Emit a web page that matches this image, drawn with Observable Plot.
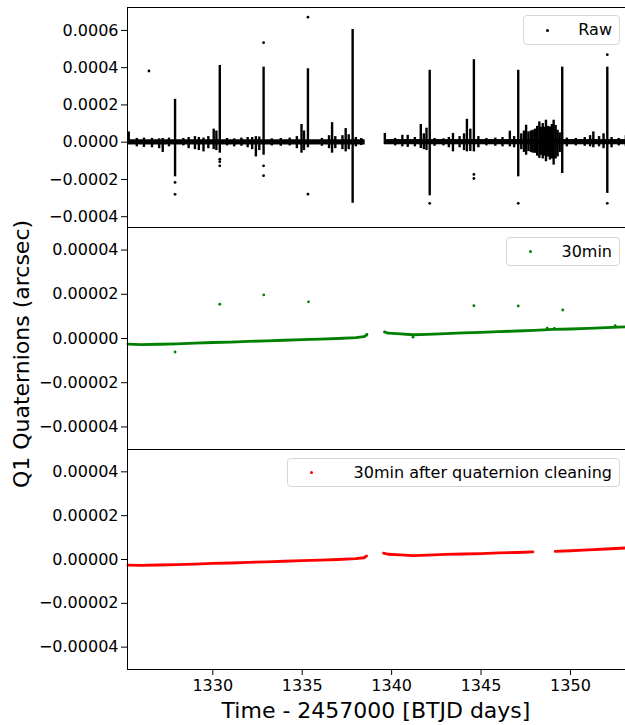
<!DOCTYPE html>
<html><head><meta charset="utf-8">
<script src="https://cdn.jsdelivr.net/npm/d3@7"></script>
<script src="https://cdn.jsdelivr.net/npm/@observablehq/plot@0.6"></script>
<style>
html,body{margin:0;padding:0;background:#fff;overflow:hidden;}
#wrap{position:relative;width:625px;height:725px;font-family:"DejaVu Sans",sans-serif;overflow:hidden;background:#fff;}
#wrap svg{position:absolute;left:0;overflow:visible !important;background:transparent;}
.legend{position:absolute;border:1px solid #d6d6d6;border-radius:4px;background:rgba(255,255,255,0.85);font-size:16px;color:#000;box-sizing:border-box;z-index:5;}
.legend .dot{position:absolute;width:3px;height:3px;border-radius:50%;}
.legend .txt{position:absolute;right:7px;top:0;white-space:nowrap;}
.lab{position:absolute;font-size:22px;color:#000;white-space:nowrap;}
</style>
</head><body><div id="wrap"></div>
<script>
// ---------- data ----------
const xTicks = [1330, 1335, 1340, 1345, 1350];
const rawTicks = [-0.0004, -0.0002, 0, 0.0002, 0.0004, 0.0006];
const binTicks = [-0.00004, -0.00002, 0, 0.00002, 0.00004];

// raw baseline band segments: [start, end, lo, hi]
const rawBand = [
  [1325.23, 1338.52, -0.000015, 0.000013],
  [1339.60, 1353.20, -0.000014, 0.000014]
];
// raw vertical excursions: [time, low, high]
const rawSpikes = [
  [1327.89, -0.000186, 0.000230],
  [1330.39, -0.000059, 0.000412],
  [1332.84, -0.000070, 0.000403],
  [1335.32, -0.000030, 0.000394],
  [1337.82, -0.000328, 0.000605],
  [1342.13, -0.000288, 0.000386],
  [1344.60, -0.000052, 0.000443],
  [1347.08, -0.000186, 0.000386],
  [1349.54, -0.000168, 0.000403],
  [1352.06, -0.000275, 0.000403],
  [1325.30, -0.000012, 0.000055],
  [1325.75, -0.000025, 0.000020],
  [1326.15, -0.000028, 0.000022],
  [1326.60, -0.000030, 0.000020],
  [1327.00, -0.000035, 0.000018],
  [1327.20, -0.000055, 0.000020],
  [1327.55, -0.000025, 0.000022],
  [1328.35, -0.000020, 0.000020],
  [1328.65, -0.000035, 0.000025],
  [1329.00, -0.000040, 0.000030],
  [1329.22, -0.000045, 0.000025],
  [1329.48, -0.000052, 0.000022],
  [1329.75, -0.000035, 0.000030],
  [1330.05, -0.000040, 0.000070],
  [1330.20, -0.000045, 0.000060],
  [1330.80, -0.000020, 0.000020],
  [1331.20, -0.000025, 0.000018],
  [1331.60, -0.000022, 0.000022],
  [1331.95, -0.000030, 0.000025],
  [1332.20, -0.000040, 0.000025],
  [1332.41, -0.000079, 0.000030],
  [1332.60, -0.000045, 0.000028],
  [1333.30, -0.000020, 0.000018],
  [1333.80, -0.000022, 0.000020],
  [1334.30, -0.000020, 0.000022],
  [1334.70, -0.000035, 0.000030],
  [1334.96, -0.000059, 0.000095],
  [1335.10, -0.000045, 0.000060],
  [1336.10, -0.000022, 0.000020],
  [1336.50, -0.000035, 0.000035],
  [1336.67, -0.000059, 0.000105],
  [1336.85, -0.000035, 0.000030],
  [1337.25, -0.000040, 0.000035],
  [1337.43, -0.000052, 0.000073],
  [1337.60, -0.000040, 0.000040],
  [1338.00, -0.000025, 0.000025],
  [1338.30, -0.000018, 0.000020],
  [1339.62, -0.000012, 0.000047],
  [1340.20, -0.000020, 0.000020],
  [1340.60, -0.000025, 0.000037],
  [1340.90, -0.000028, 0.000037],
  [1341.30, -0.000025, 0.000025],
  [1341.63, -0.000034, 0.000095],
  [1341.80, -0.000040, 0.000045],
  [1341.95, -0.000045, 0.000075],
  [1342.40, -0.000022, 0.000020],
  [1342.90, -0.000020, 0.000018],
  [1343.20, -0.000030, 0.000025],
  [1343.43, -0.000052, 0.000047],
  [1343.80, -0.000030, 0.000030],
  [1344.05, -0.000045, 0.000045],
  [1344.21, -0.000052, 0.000123],
  [1344.40, -0.000050, 0.000070],
  [1344.85, -0.000030, 0.000030],
  [1345.30, -0.000020, 0.000020],
  [1345.80, -0.000022, 0.000022],
  [1346.20, -0.000025, 0.000025],
  [1346.61, -0.000025, 0.000059],
  [1346.85, -0.000030, 0.000030],
  [1347.25, -0.000040, 0.000045],
  [1347.40, -0.000055, 0.000060],
  [1347.52, -0.000070, 0.000091],
  [1347.65, -0.000050, 0.000055],
  [1347.78, -0.000055, 0.000060],
  [1347.89, -0.000059, 0.000064],
  [1348.02, -0.000060, 0.000070],
  [1348.14, -0.000075, 0.000085],
  [1348.26, -0.000087, 0.000109],
  [1348.36, -0.000070, 0.000080],
  [1348.45, -0.000090, 0.000100],
  [1348.54, -0.000075, 0.000080],
  [1348.63, -0.000105, 0.000118],
  [1348.74, -0.000080, 0.000085],
  [1348.85, -0.000096, 0.000082],
  [1348.96, -0.000090, 0.000095],
  [1349.06, -0.000123, 0.000118],
  [1349.17, -0.000090, 0.000090],
  [1349.28, -0.000079, 0.000064],
  [1349.40, -0.000055, 0.000050],
  [1349.80, -0.000025, 0.000022],
  [1350.30, -0.000020, 0.000020],
  [1350.80, -0.000022, 0.000025],
  [1351.10, -0.000025, 0.000035],
  [1351.28, -0.000030, 0.000055],
  [1351.60, -0.000025, 0.000030],
  [1351.85, -0.000035, 0.000045],
  [1352.30, -0.000030, 0.000025],
  [1352.70, -0.000020, 0.000020],
  [1353.10, -0.000025, 0.000035]
];
// raw isolated points: [time, value]
const rawOutliers = [
  [1326.43, 0.000382],
  [1327.89, -0.000216], [1327.89, -0.000280],
  [1330.39, -0.000091], [1330.39, -0.000105], [1330.39, -0.000127],
  [1332.84, 0.000534], [1332.84, -0.000127], [1332.84, -0.000180],
  [1335.32, 0.000671], [1335.32, -0.000279],
  [1342.13, -0.000328],
  [1344.60, -0.000173], [1344.60, -0.000195],
  [1347.08, -0.000328],
  [1352.06, 0.000470], [1352.06, -0.000328]
];

// 30-min binned series (green): [segment, time, value]
const bin30 = [
  [1, 1325.25, -0.0000025], [1, 1326.0, -0.0000028], [1, 1327.0, -0.0000026],
  [1, 1328.0, -0.0000024], [1, 1329.0, -0.0000021], [1, 1330.0, -0.0000018],
  [1, 1331.0, -0.0000016], [1, 1332.0, -0.0000013], [1, 1333.0, -0.0000011],
  [1, 1334.0, -0.0000008], [1, 1335.0, -0.0000005], [1, 1336.0, -0.0000003],
  [1, 1337.0, 0.0000000], [1, 1338.0, 0.0000004], [1, 1338.45, 0.0000008],
  [1, 1338.6, 0.0000016],
  [2, 1339.6, 0.0000030], [2, 1339.8, 0.0000024], [2, 1340.5, 0.0000021],
  [2, 1341.2, 0.0000017], [2, 1342.0, 0.0000019], [2, 1343.0, 0.0000022],
  [2, 1344.0, 0.0000025], [2, 1345.0, 0.0000028], [2, 1346.0, 0.0000031],
  [2, 1347.0, 0.0000034], [2, 1348.0, 0.0000037], [2, 1349.0, 0.0000041],
  [2, 1350.0, 0.0000043], [2, 1351.0, 0.0000046], [2, 1352.0, 0.0000049],
  [2, 1353.2, 0.0000053]
];
const bin30Outliers = [
  [1327.89, -0.0000061], [1330.39, 0.0000155], [1332.85, 0.0000197],
  [1335.35, 0.0000166], [1344.60, 0.0000148], [1347.08, 0.0000147],
  [1349.57, 0.0000129], [1341.20, 0.0000006], [1338.62, 0.0000018],
  [1348.70, 0.0000047], [1349.10, 0.0000046], [1352.50, 0.0000058]
];
// 30-min after quaternion cleaning (red): [segment, time, value]
const clean30 = [
  [1, 1325.25, -0.0000026], [1, 1326.0, -0.0000027], [1, 1327.0, -0.0000025],
  [1, 1328.0, -0.0000023], [1, 1329.0, -0.0000021], [1, 1330.0, -0.0000018],
  [1, 1331.0, -0.0000016], [1, 1332.0, -0.0000013], [1, 1333.0, -0.0000011],
  [1, 1334.0, -0.0000008], [1, 1335.0, -0.0000005], [1, 1336.0, -0.0000003],
  [1, 1337.0, 0.0000000], [1, 1338.0, 0.0000004], [1, 1338.45, 0.0000008],
  [1, 1338.6, 0.0000016],
  [2, 1339.55, 0.0000029], [2, 1339.8, 0.0000024], [2, 1340.5, 0.0000021],
  [2, 1341.2, 0.0000018], [2, 1342.0, 0.0000020], [2, 1343.0, 0.0000023],
  [2, 1344.0, 0.0000025], [2, 1345.0, 0.0000027], [2, 1346.0, 0.0000030],
  [2, 1347.0, 0.0000032], [2, 1347.9, 0.0000035],
  [3, 1349.15, 0.0000037], [3, 1350.0, 0.0000040], [3, 1351.0, 0.0000044],
  [3, 1352.0, 0.0000048], [3, 1353.2, 0.0000053]
];

const xDomain = [1325.23, 1353.19];
const rawDomain = [-0.000458, 0.000723];
const binDomain = [-0.0000502, 0.0000502];

// ---------- drawing ----------
const wrap = document.getElementById("wrap");
const W = 625, ML = 127, MR = -2;
const baseStyle = {fontFamily: "DejaVu Sans, sans-serif", fontSize: "16px", color: "black", background: "transparent"};

function place(svg, top) {
  svg.style.top = top + "px";
  wrap.appendChild(svg);
}

const p1 = Plot.plot({
  width: W, height: 227, marginTop: 7, marginBottom: 0, marginLeft: ML, marginRight: MR,
  style: baseStyle,
  x: {domain: xDomain, axis: null},
  y: {domain: rawDomain, ticks: rawTicks, tickFormat: d3.format(".4f"), tickSize: 6, tickPadding: 3, label: null},
  marks: [
    Plot.rect(rawBand, {x1: d => d[0], x2: d => d[1], y1: d => d[2], y2: d => d[3], fill: "black"}),
    Plot.ruleX(rawSpikes, {x: d => d[0], y1: d => d[1], y2: d => d[2], stroke: "black", strokeWidth: 2.4}),
    Plot.dot(rawOutliers, {x: d => d[0], y: d => d[1], r: 1.4, fill: "black", stroke: "none"}),
    Plot.frame({stroke: "black", strokeWidth: 1})
  ]
});
place(p1, 0);

const p2 = Plot.plot({
  width: W, height: 222, marginTop: 0, marginBottom: 0, marginLeft: ML, marginRight: MR,
  style: baseStyle,
  x: {domain: xDomain, axis: null},
  y: {domain: binDomain, ticks: binTicks, tickFormat: d3.format(".5f"), tickSize: 6, tickPadding: 3, label: null},
  marks: [
    Plot.line(bin30, {x: d => d[1], y: d => d[2], z: d => d[0], stroke: "green", strokeWidth: 2.8}),
    Plot.dot(bin30Outliers, {x: d => d[0], y: d => d[1], r: 1.4, fill: "green", stroke: "none"}),
    Plot.frame({stroke: "black", strokeWidth: 1})
  ]
});
place(p2, 227);

const p3 = Plot.plot({
  width: W, height: 276, marginTop: 0, marginBottom: 56, marginLeft: ML, marginRight: MR,
  style: baseStyle,
  x: {domain: xDomain, ticks: xTicks, tickFormat: d3.format("d"), tickSize: 6, tickPadding: 4, label: null},
  y: {domain: binDomain, ticks: binTicks, tickFormat: d3.format(".5f"), tickSize: 6, tickPadding: 3, label: null},
  marks: [
    Plot.line(clean30, {x: d => d[1], y: d => d[2], z: d => d[0], stroke: "red", strokeWidth: 2.8}),
    Plot.frame({stroke: "black", strokeWidth: 1})
  ]
});
place(p3, 449);

// legends
function legend(left, top, width, height, color, label) {
  const box = document.createElement("div");
  box.className = "legend";
  Object.assign(box.style, {left: left + "px", top: top + "px", width: width + "px", height: height + "px"});
  const dot = document.createElement("span");
  dot.className = "dot";
  Object.assign(dot.style, {left: "22px", top: (height / 2 - 2.5) + "px", background: color});
  const txt = document.createElement("span");
  txt.className = "txt";
  txt.style.lineHeight = (height - 2) + "px";
  txt.textContent = label;
  box.appendChild(dot); box.appendChild(txt);
  wrap.appendChild(box);
}
legend(523, 15, 97, 30, "black", "Raw");
legend(506, 237, 114, 29, "green", "30min");
legend(287, 458, 333, 29, "red", "30min after quaternion cleaning");

// axis titles
const xl = document.createElement("div");
xl.className = "lab";
xl.textContent = "Time - 2457000 [BTJD days]";
Object.assign(xl.style, {left: "376px", top: "710px", transform: "translate(-50%, -50%)"});
wrap.appendChild(xl);

const yl = document.createElement("div");
yl.className = "lab";
yl.textContent = "Q1 Quaternions (arcsec)";
Object.assign(yl.style, {left: "21px", top: "354px", transform: "translate(-50%, -50%) rotate(-90deg)"});
wrap.appendChild(yl);
</script>
</body></html>
